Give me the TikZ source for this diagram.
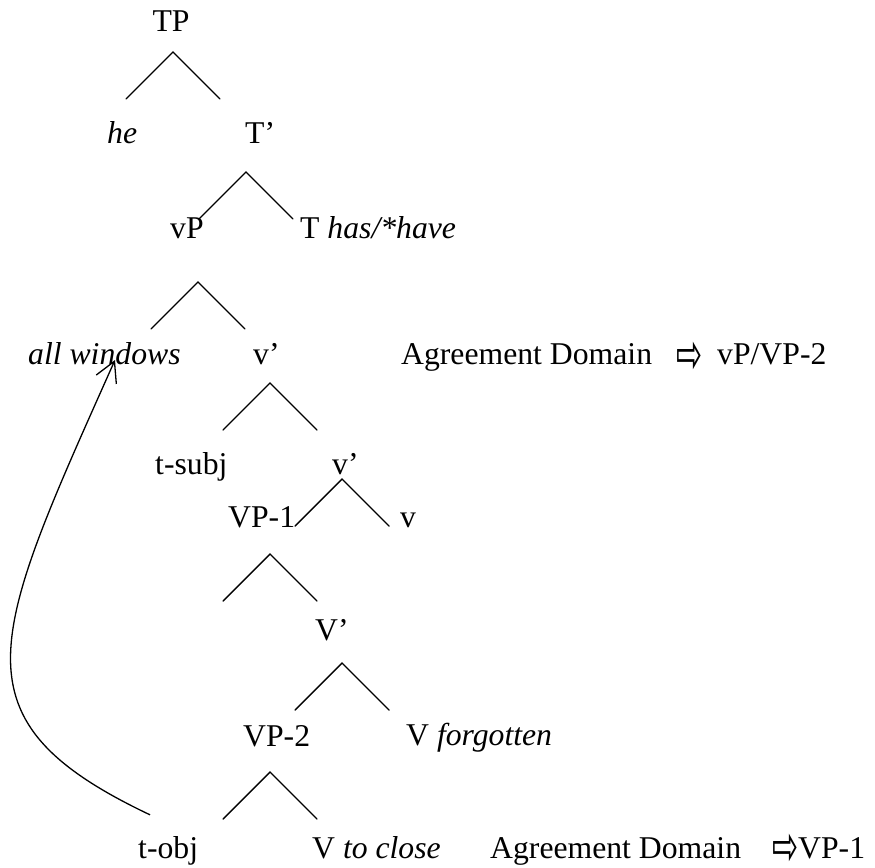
\documentclass[tikz,border=0pt]{standalone}
\usepackage{fontspec}
\usepackage{graphicx}
\setmainfont{Liberation Serif}
\newfontfamily\arrowfont{DejaVu Sans}
\usetikzlibrary{arrows.meta}

% one caret of a tree, hung from its apex
\newcommand{\branch}[1]{\draw[branch] (#1) ++(-47,47) -- (#1) -- ++(47,47);}
\newcommand{\domarrow}{\scalebox{0.78}[1.4]{⇨}}

\begin{document}
\begin{tikzpicture}[
    x=1pt, y=-1pt,
    word/.style={inner sep=0pt, anchor=base west, font=\fontsize{31.7}{38}\selectfont},
    arr/.style={inner sep=0pt, anchor=west, font=\arrowfont\fontsize{40}{46}\selectfont},
    branch/.style={line width=1.4pt, line cap=round},
    move/.style={line width=1.3pt, -{Straight Barb[length=20pt,width=22pt,line width=1.3pt]}}
  ]
  \useasboundingbox (0,0) rectangle (875,867);

  % TP level
  \node[word, anchor=base] (tp) at (171,32) {TP};
  \branch{173,52}
  \node[word] (he) at (107,143) {\textit{he}};
  \node[word] (tbar) at (245,143) {T’};
  \branch{246,172}
  \node[word] (vp) at (170,238) {vP};
  \node[word] (thas) at (300,238) {T \textit{has/*have}};

  % vP
  \branch{198,282}
  \node[word] (win) at (28,364) {\textit{all windows}};
  \node[word] (vbar) at (253,364) {v’};
  \node[word] (agrtop) at (401,364) {Agreement Domain};
  \node[arr] (arrtop) at (676,358) {\domarrow};
  \node[word] (domtop) at (717,364) {vP/VP-2};

  \branch{270,383}
  \node[word] (tsubj) at (155,474) {t-subj};
  \node[word] (vbartwo) at (332,474) {v’};
  \branch{342,479}
  \node[word] (vpone) at (228,527) {VP-1};
  \node[word] (vsmall) at (400,527) {v};

  % VP-1 and VP-2
  \branch{270,554}
  \node[word] (Vbar) at (315,640) {V’};
  \branch{342,663}
  \node[word] (vptwo) at (243,746) {VP-2};
  \node[word] (vforg) at (406,745) {V \textit{forgotten}};
  \branch{270,772}
  \node[word] (tobj) at (138,858) {t-obj};
  \node[word] (vclose) at (312,858) {V \textit{to close}};
  \node[word] (agrbot) at (490,858) {Agreement Domain};
  \node[arr] (arrbot) at (772,850) {\domarrow};
  \node[word] (dombot) at (798,858) {VP-1};

  % movement of the object
  \draw[move] ([shift={(12,-21)}]tobj.north west)
    .. controls (-50,720) and (-10,640) .. ([shift={(87,-4)}]win.base west);
\end{tikzpicture}
\end{document}
